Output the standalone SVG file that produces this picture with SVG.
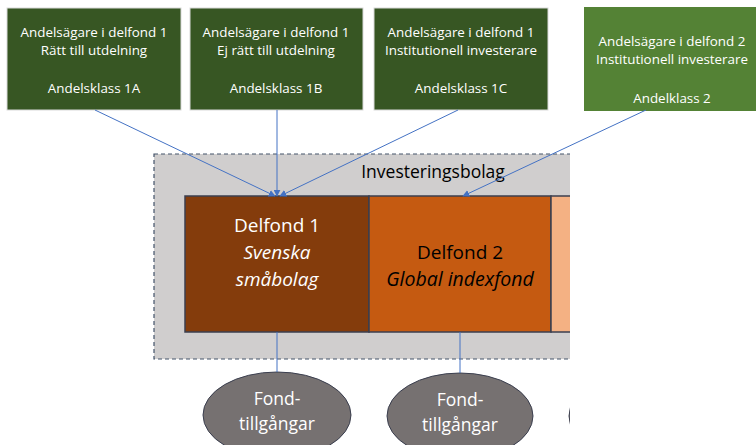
<svg xmlns="http://www.w3.org/2000/svg" width="756" height="445" viewBox="0 0 756 445">
<defs>
<style>
.own{fill:#375623;stroke:#d9d9d9;stroke-width:1}
.own2{fill:#548235}
.tw{font-family:"Open Sans","Liberation Sans",sans-serif;font-size:13.4px;fill:#fff;text-anchor:middle}
.fund{stroke:#3b3f4f;stroke-width:1.5}
.big{font-family:"Open Sans","Liberation Sans",sans-serif;font-size:19px;text-anchor:middle}
.conn{stroke:#4472c4;stroke-width:1;fill:none}
.ell{fill:#767171;stroke:#3b3f4f;stroke-width:1}
</style>
<marker id="ah" viewBox="0 0 10 10" refX="9" refY="5" markerWidth="7" markerHeight="7" orient="auto"><path d="M0,0L10,5L0,10z" fill="#4472c4"/></marker>
<clipPath id="cut"><rect x="0" y="0" width="570" height="445"/></clipPath>
</defs>
<rect width="756" height="445" fill="#fff"/>
<g id="investeringsbolag" clip-path="url(#cut)">
<rect x="154" y="154" width="430" height="205" fill="#d0cece" stroke="#44546a" stroke-width="1.2" stroke-dasharray="4,3"/>
<text x="433" y="178" class="big" style="font-size:17.5px" fill="#000">Investeringsbolag</text>
</g>
<g id="delfond1">
<rect x="185" y="196" width="184" height="136" fill="#843c0c" class="fund"/>
<text class="big" fill="#fff"><tspan x="277" y="232">Delfond 1</tspan><tspan x="277" y="259" font-style="italic">Svenska</tspan><tspan x="277" y="286" font-style="italic">småbolag</tspan></text>
</g>
<g id="delfond2">
<rect x="369" y="196" width="182" height="136" fill="#c55a11" class="fund"/>
<text class="big" fill="#000"><tspan x="460" y="259">Delfond 2</tspan><tspan x="460" y="286" font-style="italic" style="font-size:19.5px">Global indexfond</tspan></text>
</g>
<g id="delfond3" clip-path="url(#cut)">
<rect x="551" y="196" width="60" height="136" fill="#f4b183" class="fund"/>
</g>
<g id="klass1a">
<rect x="7" y="8" width="174" height="102" class="own"/>
<text class="tw"><tspan x="94" y="37">Andelsägare i delfond 1</tspan><tspan x="94" y="55">Rätt till utdelning</tspan><tspan x="94" y="93">Andelsklass 1A</tspan></text>
</g>
<g id="klass1b">
<rect x="190" y="8" width="173" height="102" class="own"/>
<text class="tw"><tspan x="276" y="37">Andelsägare i delfond 1</tspan><tspan x="276" y="55">Ej rätt till utdelning</tspan><tspan x="276" y="93">Andelsklass 1B</tspan></text>
</g>
<g id="klass1c">
<rect x="374" y="8" width="174" height="102" class="own"/>
<text class="tw"><tspan x="461" y="37">Andelsägare i delfond 1</tspan><tspan x="461" y="55">Institutionell investerare</tspan><tspan x="461" y="93">Andelsklass 1C</tspan></text>
</g>
<g id="klass2">
<rect x="584" y="7" width="172" height="104" class="own2"/>
<text class="tw"><tspan x="672" y="46">Andelsägare i delfond 2</tspan><tspan x="672" y="64">Institutionell investerare</tspan><tspan x="672" y="103">Andelklass 2</tspan></text>
</g>
<g id="tillgangar1">
<ellipse cx="277" cy="415" rx="74" ry="43" class="ell"/>
<text class="big" style="font-size:17.5px" fill="#fff"><tspan x="277" y="405">Fond-</tspan><tspan x="277" y="430">tillgångar</tspan></text>
</g>
<g id="tillgangar2">
<ellipse cx="460" cy="416" rx="73" ry="43" class="ell"/>
<text class="big" style="font-size:17.5px" fill="#fff"><tspan x="460" y="406">Fond-</tspan><tspan x="460" y="431">tillgångar</tspan></text>
</g>
<g id="tillgangar3" clip-path="url(#cut)">
<ellipse cx="643" cy="416" rx="74" ry="43" class="ell"/>
</g>
<g id="connectors">
<line x1="95" y1="110" x2="275" y2="196" class="conn" marker-end="url(#ah)"/>
<line x1="277" y1="110" x2="277" y2="196" class="conn" marker-end="url(#ah)"/>
<line x1="458" y1="110" x2="280" y2="196" class="conn" marker-end="url(#ah)"/>
<line x1="646" y1="110" x2="463" y2="196" class="conn" marker-end="url(#ah)"/>
<line x1="277" y1="332" x2="277" y2="372" class="conn"/>
<line x1="460" y1="332" x2="460" y2="373" class="conn"/>
</g>
</svg>
